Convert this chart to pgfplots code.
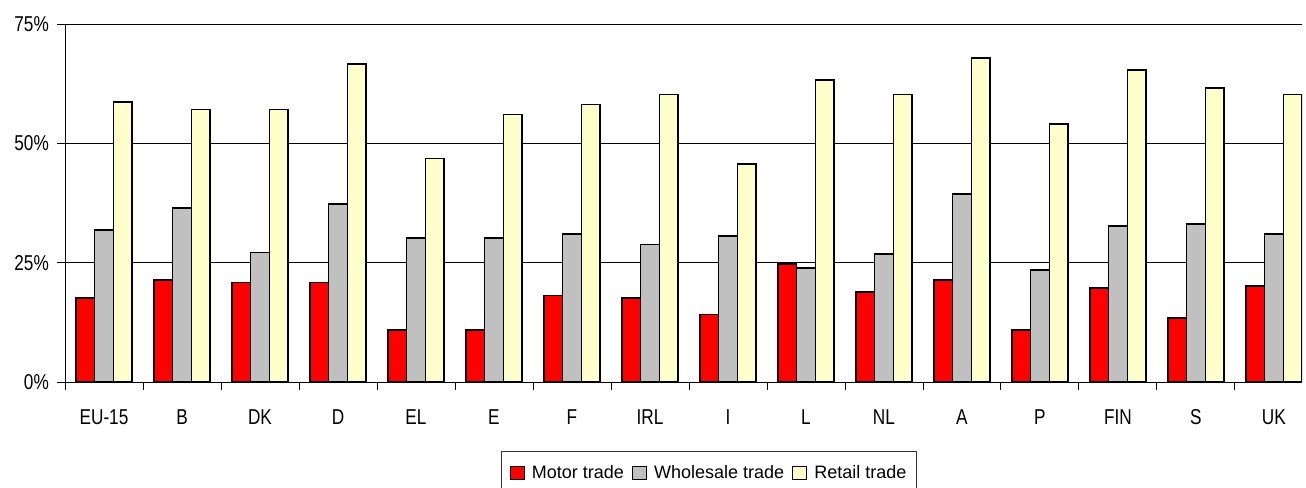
\documentclass[border=0pt]{standalone}
\usepackage{pgfplots}
\usepackage{pgfplotstable}
\pgfplotsset{compat=1.18}
\usepackage{fontspec}
\setmainfont{Liberation Sans}
\newfontfamily\axisfont{Liberation Sans}[FakeStretch=0.8]
\definecolor{motor}{HTML}{FF0000}
\definecolor{whole}{HTML}{C0C0C0}
\definecolor{retail}{HTML}{FFFFCC}
\pgfplotstableread{
x motor wholesale retail
0 17.6 31.9 58.7
1 21.4 36.5 57.1
2 20.9 27.2 57.1
3 20.9 37.3 66.7
4 10.9 30.2 46.9
5 10.9 30.2 56.1
6 18.1 31.0 58.2
7 17.6 28.8 60.3
8 14.2 30.6 45.7
9 24.7 23.9 63.3
10 18.9 26.8 60.3
11 21.4 39.4 67.9
12 10.9 23.5 54.1
13 19.7 32.7 65.4
14 13.4 33.1 61.6
15 20.1 31.0 60.3
}\datatable
\begin{document}
\fontsize{18pt}{21pt}\selectfont
\begin{tikzpicture}
\begin{axis}[
  scale only axis,
  width=1237pt, height=357.7pt,
  xmin=-0.5, xmax=15.36,
  ymin=0, ymax=75,
  axis x line=bottom, axis y line=left,
  axis line style={-, line width=0.9pt, black},
  ytick={0,25,50,75},
  yticklabels={0\%,25\%,50\%,75\%},
  xtick={-0.5,0.5,...,15.5},
  xticklabels={EU-15,B,DK,D,EL,E,F,IRL,I,L,NL,A,P,FIN,S,UK},
  major tick length=8pt,
  tick align=outside,
  tick style={black, line width=0.9pt},
  xticklabel style={xshift=39pt, yshift=-17pt, text height=11.2pt, text depth=0pt,
    font=\axisfont\fontsize{21.5pt}{24pt}\selectfont},
  yticklabel style={xshift=-2pt, font=\axisfont\fontsize{21.5pt}{24pt}\selectfont},
  ymajorgrids,
  grid style={black, line width=0.9pt},
  ybar=0pt,
  bar width=0.24,
  every axis plot/.append style={draw=black, line width=1.5pt},
  legend columns=-1,
  legend style={at={(0.5206,0)}, anchor=north, yshift=-68.7pt,
    draw=black!80, line width=0.8pt, font=\fontsize{18pt}{21pt}\selectfont,
    inner xsep=8pt, inner ysep=12pt,
    /tikz/every odd column/.append style={column sep=5pt},
    /tikz/every even column/.append style={column sep=6pt}},
  legend image code/.code={\draw[#1, line width=1.2pt] (0pt,-6.3pt) rectangle (14pt,6.3pt);},
]
\addplot[fill=motor, bar shift=-0.24] table[x=x, y=motor] {\datatable};
\addplot[fill=whole, bar shift=0] table[x=x, y=wholesale] {\datatable};
\addplot[fill=retail, bar shift=0.24] table[x=x, y=retail] {\datatable};
\legend{Motor trade, Wholesale trade, Retail trade}
\end{axis}
\pgfresetboundingbox
\path[use as bounding box] ([xshift=-65pt,yshift=-106pt]current axis.south west) rectangle ([xshift=4pt,yshift=24.3pt]current axis.north east);
\end{tikzpicture}
\end{document}
